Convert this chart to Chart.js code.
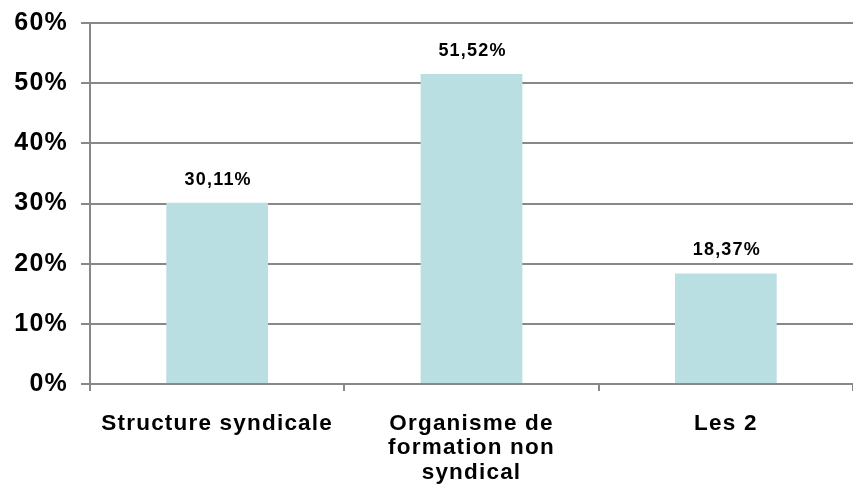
<!DOCTYPE html>
<html><head><meta charset="utf-8">
<script src="https://cdn.jsdelivr.net/npm/chart.js@4/dist/chart.umd.min.js"></script>
<style>html,body{margin:0;padding:0;background:#fff}#c{display:block}</style>
</head><body>
<div style="width:853px;height:497px"><canvas id="c" width="853" height="497"></canvas></div>
<script>
const categories = [["Structure syndicale"], ["Organisme de", "formation non", "syndical"], ["Les 2"]];
const values = [30.11, 51.52, 18.37];
const valueLabels = ["30,11%", "51,52%", "18,37%"];
const yTicks = [0, 10, 20, 30, 40, 50, 60];

const spacingPlugin = {
  id: 'spacing',
  beforeDraw(chart) { chart.ctx.letterSpacing = '1.2px'; }
};

const labelPlugin = {
  id: 'vlabels',
  afterDatasetsDraw(chart) {
    const ctx = chart.ctx;
    const meta = chart.getDatasetMeta(0);
    ctx.save();
    ctx.letterSpacing = '1.2px';
    ctx.font = 'bold 18px "Liberation Sans", Arial, sans-serif';
    ctx.fillStyle = '#000';
    ctx.textAlign = 'center';
    ctx.textBaseline = 'middle';
    meta.data.forEach((bar, i) => {
      ctx.fillText(valueLabels[i], bar.x + 1, bar.y - 23);
    });
    ctx.restore();
  }
};

new Chart(document.getElementById('c'), {
  type: 'bar',
  data: {
    labels: categories,
    datasets: [{
      data: values,
      backgroundColor: '#B9DFE2',
      borderWidth: 0,
      categoryPercentage: 0.4,
      barPercentage: 1.0
    }]
  },
  options: {
    responsive: false,
    animation: false,
    devicePixelRatio: 1,
    layout: { padding: { top: 0, right: 0, left: 0, bottom: 0 } },
    plugins: { legend: { display: false }, tooltip: { enabled: false } },
    scales: {
      y: {
        min: 0, max: 60,
        afterFit(s) { s.width = 90; s.paddingTop = 23; s.paddingBottom = 0; },
        afterBuildTicks(s) { s.ticks = yTicks.map(v => ({ value: v })); },
        border: { color: '#888', width: 2 },
        grid: { color: '#888', lineWidth: 2, tickLength: 9 },
        ticks: {
          padding: 13,
          color: '#000',
          font: { family: '"Liberation Sans", Arial, sans-serif', size: 25, weight: 'bold' },
          callback: v => v + '%'
        }
      },
      x: {
        afterFit(s) { s.height = 113; s.paddingLeft = 0; s.paddingRight = 0; },
        border: { color: '#888', width: 2 },
        grid: { drawOnChartArea: false, color: '#888', lineWidth: 2, tickLength: 7, offset: true },
        ticks: {
          padding: 20,
          color: '#000',
          maxRotation: 0,
          autoSkip: false,
          font: { family: '"Liberation Sans", Arial, sans-serif', size: 22.5, weight: 'bold', lineHeight: 1.1 }
        }
      }
    }
  },
  plugins: [spacingPlugin, labelPlugin]
});
</script>
</body></html>
